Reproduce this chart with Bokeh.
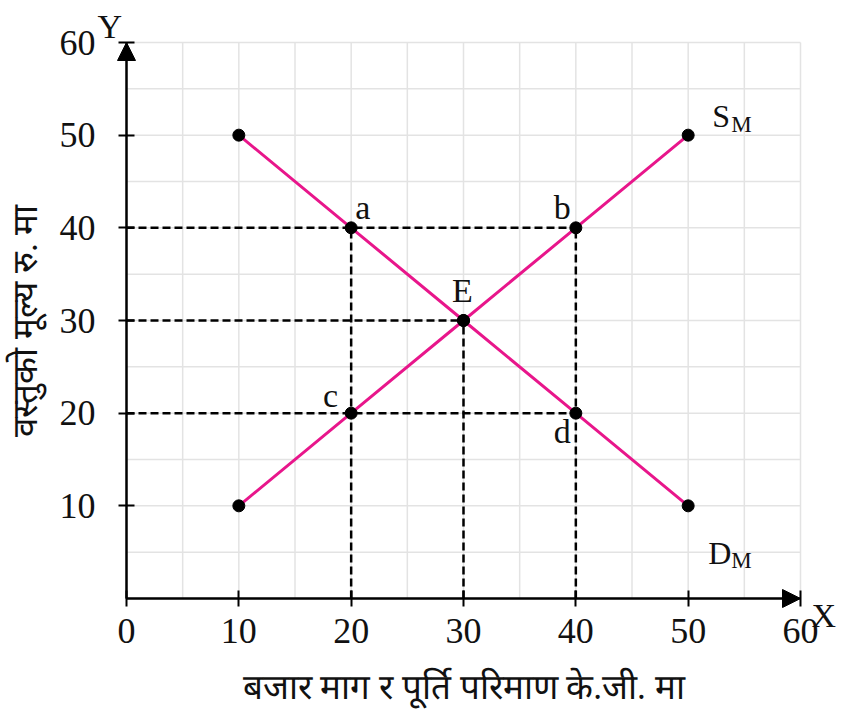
from bokeh.plotting import figure
from bokeh.models import FixedTicker, Label, Arrow, NormalHead, Range1d
from bokeh.embed import file_html
from bokeh.resources import INLINE

# ---- data ----
quantity = [10, 20, 30, 40, 50]
demand_price = [50, 40, 30, 20, 10]
supply_price = [10, 20, 30, 40, 50]
x_ticks = [0, 10, 20, 30, 40, 50, 60]
y_ticks = [10, 20, 30, 40, 50, 60]
grid_ticks = [0, 5, 10, 15, 20, 25, 30, 35, 40, 45, 50, 55, 60]
h_guide_y = [40, 30, 20]
h_guide_end = [40, 30, 40]
v_guide_x = [20, 30, 40]
v_guide_end = [40, 30, 40]
point_names = ["a", "b", "E", "c", "d"]
point_x = [20, 40, 30, 20, 40]
point_y = [40, 40, 30, 20, 20]
x_title = "बजार माग र पूर्ति परिमाण के.जी. मा"
y_title = "वस्तुको मूल्य रु. मा"

# ---- layout (pixels) ----
W, H = 840, 710
X0_PX, X60_PX = 126, 800
Y0_PX, Y60_PX = 598, 42
ppx = (X60_PX - X0_PX) / 60.0
ppy = (Y0_PX - Y60_PX) / 60.0

SERIF = "Liberation Serif"
MAGENTA = "#e8168b"
TXT = "#111111"

p = figure(width=W, height=H,
           x_range=Range1d(-X0_PX / ppx, (W - X0_PX) / ppx),
           y_range=Range1d(-(H - Y0_PX) / ppy, Y0_PX / ppy),
           output_backend="svg", toolbar_location=None, title=None,
           min_border=0)
p.outline_line_color = None
p.background_fill_color = "white"
p.xgrid.visible = False
p.ygrid.visible = False

# grid every 5 units, limited to the 0..60 square
n = len(grid_ticks)
p.segment(x0=grid_ticks, y0=[0] * n, x1=grid_ticks, y1=[60] * n,
          line_color="#e3e3e3", line_width=1.5)
p.segment(x0=[0] * n, y0=grid_ticks, x1=[60] * n, y1=grid_ticks,
          line_color="#e3e3e3", line_width=1.5)

# axes placed at the data origin
p.xaxis.fixed_location = 0
p.yaxis.fixed_location = 0
p.xaxis.bounds = (0, 60)
p.yaxis.bounds = (0, 60)
p.xaxis.ticker = FixedTicker(ticks=x_ticks)
p.yaxis.ticker = FixedTicker(ticks=y_ticks)
for ax in (p.xaxis, p.yaxis):
    ax.axis_line_color = "black"
    ax.axis_line_width = 2
    ax.major_tick_line_color = "black"
    ax.major_tick_line_width = 2
    ax.major_tick_in = 8
    ax.major_tick_out = 8
    ax.minor_tick_line_color = None
    ax.major_label_text_font = SERIF
    ax.major_label_text_font_size = "36px"
    ax.major_label_text_color = TXT
    ax.axis_label_text_font = SERIF
    ax.axis_label_text_font_size = "35px"
    ax.axis_label_text_font_style = "normal"
    ax.axis_label_text_color = TXT
p.xaxis.major_label_standoff = 12
p.yaxis.major_label_standoff = 23
p.xaxis.axis_label = x_title
p.yaxis.axis_label = y_title
p.xaxis.axis_label_standoff = 22
p.yaxis.axis_label_standoff = 12

# arrow heads on axes
p.add_layout(Arrow(end=NormalHead(size=18, fill_color="black", line_color="black"),
                   x_start=0, y_start=0, x_end=0, y_end=60, line_width=2, line_color="black"))
p.add_layout(Arrow(end=NormalHead(size=18, fill_color="black", line_color="black"),
                   x_start=0, y_start=0, x_end=60, y_end=0, line_width=2, line_color="black"))

# dashed guide lines
p.segment(x0=[0] * len(h_guide_y), y0=h_guide_y, x1=h_guide_end, y1=h_guide_y,
          line_color="black", line_width=2.5, line_dash="8 4")
p.segment(x0=v_guide_x, y0=[0] * len(v_guide_x), x1=v_guide_x, y1=v_guide_end,
          line_color="black", line_width=2.5, line_dash="8 4")

# demand and supply
p.line(quantity, demand_price, line_color=MAGENTA, line_width=3)
p.line(quantity, supply_price, line_color=MAGENTA, line_width=3)
p.scatter(quantity, demand_price, size=12, fill_color="black", line_color="black")
p.scatter(quantity, supply_price, size=12, fill_color="black", line_color="black")


def add_text(x, y, text, dx, dy, size, align="left"):
    p.add_layout(Label(x=x, y=y, text=text, x_offset=dx, y_offset=dy, text_align=align,
                       text_baseline="middle", text_font=SERIF,
                       text_font_size=size, text_color=TXT))


# point labels
offsets = {"a": (4, 20, "left"), "b": (-5, 20, "right"), "E": (-1, 30, "center"),
           "c": (-13, 18, "right"), "d": (-5, -18, "right")}
for name, px, py in zip(point_names, point_x, point_y):
    dx, dy, al = offsets[name]
    add_text(px, py, name, dx, dy, "34px", al)

# curve names with subscripts
add_text(quantity[-1], supply_price[-1], "S", 24, 19, "32px")
add_text(quantity[-1], supply_price[-1], "M", 43, 11, "23px")
add_text(quantity[-1], demand_price[-1], "D", 20, -47, "32px")
add_text(quantity[-1], demand_price[-1], "M", 43, -55, "23px")

# axis letters
add_text(0, 60, "Y", -29, 16, "34px")
add_text(60, 0, "X", 11, -17, "34px")

open("out.html", "w").write(file_html(p, INLINE))
